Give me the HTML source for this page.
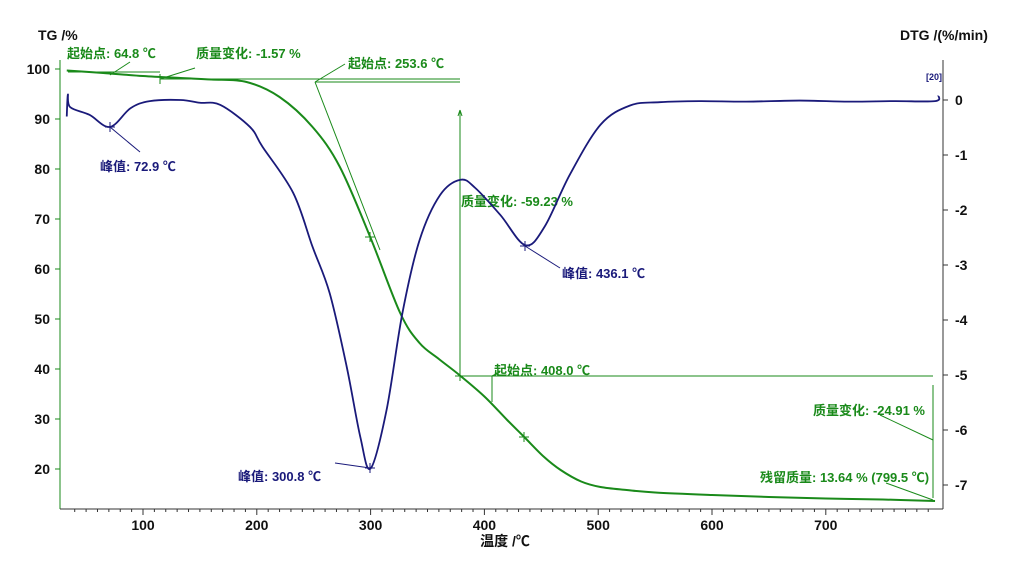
<!DOCTYPE html>
<html><head><meta charset="utf-8"><style>
body{margin:0;background:#fff;width:1024px;height:575px;overflow:hidden}
svg text{font-family:"Liberation Sans","Noto Sans CJK SC",sans-serif;font-weight:bold}
</style></head><body>
<svg id="chart" width="1024" height="575" viewBox="0 0 1024 575" xmlns="http://www.w3.org/2000/svg">
<g id="axes"></g>
<g id="ann"></g>
<g id="series"></g>
</svg>
<script>
const xTicks=[100,200,300,400,500,600,700];
const tgTicks=[20,30,40,50,60,70,80,90,100];
const dtgTicks=[0,-1,-2,-3,-4,-5,-6,-7];
const tgTemp=[33,65,100,133,160,191,220,249,273,300,326,343,360,378,400,420,435,452,467,485,502,525,550,600,650,700,750,796];
const tgVal=[99.7,99.2,98.6,98.2,97.9,97.4,94.4,88.4,80.4,66.2,51.2,45.2,42.0,38.8,34.5,29.8,26.4,22.5,19.8,17.5,16.4,15.8,15.3,14.8,14.4,14.1,13.9,13.6];
const dtgTemp=[33,34,36,53,71,89,106,133,150,168,194,205,232,249,264,279,291,300,314,328,343,361,379,392,414,436,453,475,502,528,554,589,630,677,720,760,796,799];
const dtgVal=[-0.3,0.1,-0.13,-0.27,-0.49,-0.15,-0.02,0.0,-0.05,-0.09,-0.49,-0.85,-1.69,-2.67,-3.51,-4.85,-6.13,-6.7,-5.64,-3.87,-2.55,-1.73,-1.45,-1.6,-2.09,-2.64,-2.3,-1.36,-0.45,-0.1,-0.04,-0.02,-0.03,-0.01,-0.03,-0.02,-0.02,0.08];
const X=t=>143+(t-100)*1.138;
const YL=v=>69+(100-v)*5;
const YR=v=>100-v*55;
const NS="http://www.w3.org/2000/svg";
function mk(tag,attrs,parent,txt){const e=document.createElementNS(NS,tag);for(const k in attrs)e.setAttribute(k,attrs[k]);if(txt!==undefined)e.textContent=txt;parent.appendChild(e);return e;}
function smooth(p){let d='M'+p[0][0]+','+p[0][1];for(let i=0;i<p.length-1;i++){const p0=p[i-1]||p[i],p1=p[i],p2=p[i+1],p3=p[i+2]||p2;
const c1=[p1[0]+(p2[0]-p0[0])/6,p1[1]+(p2[1]-p0[1])/6],c2=[p2[0]-(p3[0]-p1[0])/6,p2[1]-(p3[1]-p1[1])/6];
d+=' C'+c1[0]+','+c1[1]+' '+c2[0]+','+c2[1]+' '+p2[0]+','+p2[1];}return d;}
const ax=document.getElementById('axes'),an=document.getElementById('ann'),se=document.getElementById('series');
const G='#1a8a1a',B='#1a1a7a';
let l=mk('line',{x1:60,y1:60,x2:60,y2:509,stroke:G,'stroke-width':1},ax);


l=mk('line',{x1:943,y1:60,x2:943,y2:509,stroke:'#333','stroke-width':1},ax);


l=mk('line',{x1:60,y1:509,x2:943,y2:509,stroke:'#333','stroke-width':1},ax);


for(let t=40;t<=790;t+=10){mk('line',{x1:X(t),y1:509,x2:X(t),y2:t%100==0?515:512,stroke:'#333'},ax);}
xTicks.forEach(t=>{const e=mk('text',{x:X(t),y:530,'text-anchor':'middle','font-size':14,fill:'#111'},ax,String(t));

});
tgTicks.forEach(v=>{mk('line',{x1:55,y1:YL(v),x2:60,y2:YL(v),stroke:G},ax);
const e=mk('text',{x:50,y:YL(v)+5,'text-anchor':'end','font-size':14,fill:'#111'},ax,String(v));

});
dtgTicks.forEach(v=>{mk('line',{x1:943,y1:YR(v),x2:948,y2:YR(v),stroke:'#333'},ax);
const e=mk('text',{x:955,y:YR(v)+5,'font-size':14,fill:'#111'},ax,String(v));

});
let t;
t=mk('text',{x:38,y:40,'font-size':14,fill:'#111'},ax,'TG /%');
t=mk('text',{x:900,y:40,'font-size':14,fill:'#111'},ax,'DTG /(%/min)');
t=mk('text',{x:505,y:546,'text-anchor':'middle','font-size':14,fill:'#111'},ax,'温度 /℃');
function ln(a,b,c,d,col){mk('line',{x1:a,y1:b,x2:c,y2:d,stroke:col||G,'stroke-width':1},an);}
ln(68,72,160,72);ln(160,79,460,79);ln(110,75,130,62);ln(160,79,195,68);ln(160,74,160,84);
ln(315,82,460,82);ln(315,82,345,64);ln(315,82,380,250);
ln(460,110,460,372);ln(458,116,460,110);ln(462,116,460,110);
ln(460,376,933,376);ln(492,376,492,402);ln(492,376,500,372);
ln(933,385,933,498);ln(880,415,933,440);ln(886,483,933,500);
ln(110,127,140,152,B);ln(370,468,335,463,B);ln(525,246,560,268,B);
function tx(x,y,s,col,nm){const e=mk('text',{x:x,y:y,'font-size':13,fill:col},an,s);}
tx(67,58,'起始点: 64.8 ℃',G,'onset-label-1');
tx(196,58,'质量变化: -1.57 %',G,'mass-change-label-1');
tx(348,68,'起始点: 253.6 ℃',G,'onset-label-2');
tx(461,206,'质量变化: -59.23 %',G,'mass-change-label-2');
tx(494,375,'起始点: 408.0 ℃',G,'onset-label-3');
tx(813,415,'质量变化: -24.91 %',G,'mass-change-label-3');
tx(760,482,'残留质量: 13.64 % (799.5 ℃)',G,'residual-mass-label');
tx(100,171,'峰值: 72.9 ℃',B,'peak-label-1');
tx(238,481,'峰值: 300.8 ℃',B,'peak-label-2');
tx(562,278,'峰值: 436.1 ℃',B,'peak-label-3');
const e20=mk('text',{x:926,y:80,'font-size':9,fill:B},an,'[20]');
const tg=mk('path',{d:smooth(tgTemp.map((v,i)=>[X(v),YL(tgVal[i])])),fill:'none',stroke:G,'stroke-width':2},se);


const dg=mk('path',{d:smooth(dtgTemp.map((v,i)=>[X(v),YR(dtgVal[i])])),fill:'none',stroke:B,'stroke-width':1.8},se);


[[370,468,B],[525,246,B],[110,127,B],[370,237,G],[460,376,G],[524,437,G]].forEach(p=>{ln(p[0]-5,p[1],p[0]+5,p[1],p[2]);ln(p[0],p[1]-5,p[0],p[1]+5,p[2]);});
</script>
</body></html>
